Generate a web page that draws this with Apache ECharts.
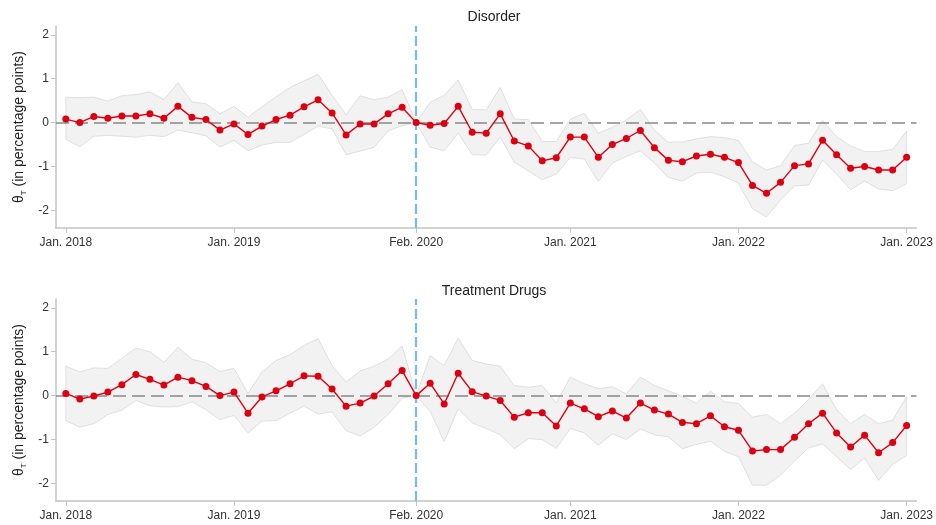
<!DOCTYPE html>
<html>
<head>
<meta charset="utf-8">
<script src="https://cdn.jsdelivr.net/npm/echarts@6/dist/echarts.min.js"></script>
<style>
  html, body { margin: 0; padding: 0; background: #fff; }
  #chart { width: 936px; height: 525px; }
</style>
</head>
<body>
<div id="chart"></div>
<script>
// month index 0 = Jan. 2018 ... 60 = Jan. 2023
const tickMonths = [0, 12, 25, 36, 48, 60];
const tickLabels = ['Jan. 2018', 'Jan. 2019', 'Feb. 2020', 'Jan. 2021', 'Jan. 2022', 'Jan. 2023'];
const yTicks = [-2, -1, 0, 1, 2];
const eventMonth = 25;

const disorderEst = [0.08, 0.00, 0.14, 0.10, 0.15, 0.15, 0.20, 0.10, 0.37, 0.12,
  0.07, -0.17, -0.03, -0.27, -0.08, 0.07, 0.17, 0.36, 0.52, 0.22,
  -0.28, -0.03, -0.03, 0.20, 0.35, 0.00, -0.06, -0.02, 0.37, -0.22,
  -0.24, 0.20, -0.42, -0.53, -0.87, -0.80, -0.33, -0.33, -0.79, -0.50,
  -0.36, -0.18, -0.57, -0.86, -0.89, -0.76, -0.72, -0.79, -0.91, -1.43,
  -1.61, -1.36, -0.98, -0.94, -0.40, -0.73, -1.04, -1.00, -1.08, -1.08,
  -0.79];
const disorderHi = [0.58, 0.57, 0.58, 0.49, 0.61, 0.64, 0.70, 0.52, 0.91, 0.47,
  0.43, 0.20, 0.37, 0.12, 0.36, 0.59, 0.80, 0.95, 1.10, 0.62,
  0.18, 0.61, 0.52, 0.58, 0.75, 0.00, 0.46, 0.62, 0.97, 0.30,
  0.29, 0.80, 0.08, 0.07, -0.43, -0.43, 0.08, 0.21, -0.24, -0.11,
  0.06, 0.30, -0.17, -0.45, -0.44, -0.37, -0.32, -0.34, -0.41, -0.89,
  -1.08, -0.98, -0.52, -0.47, 0.05, -0.32, -0.53, -0.66, -0.66, -0.61,
  -0.19];
const disorderLo = [-0.38, -0.55, -0.31, -0.29, -0.31, -0.33, -0.29, -0.32, -0.17, -0.23,
  -0.30, -0.56, -0.40, -0.64, -0.51, -0.45, -0.45, -0.27, -0.08, -0.14,
  -0.73, -0.65, -0.56, -0.19, -0.07, 0.00, -0.56, -0.64, -0.24, -0.73,
  -0.74, -0.33, -0.90, -1.10, -1.30, -1.17, -0.79, -0.83, -1.34, -0.92,
  -0.77, -0.64, -0.92, -1.25, -1.33, -1.15, -1.13, -1.23, -1.38, -1.96,
  -2.15, -1.76, -1.44, -1.42, -0.85, -1.17, -1.53, -1.33, -1.51, -1.55,
  -1.39];

const drugsEst = [0.05, -0.08, -0.01, 0.08, 0.25, 0.48, 0.37, 0.24, 0.42, 0.34,
  0.21, 0.00, 0.08, -0.40, -0.03, 0.11, 0.27, 0.45, 0.44, 0.15,
  -0.24, -0.17, -0.01, 0.27, 0.57, 0.00, 0.28, -0.19, 0.51, 0.09,
  -0.01, -0.11, -0.49, -0.39, -0.39, -0.69, -0.17, -0.30, -0.48, -0.35,
  -0.51, -0.17, -0.33, -0.42, -0.61, -0.64, -0.46, -0.71, -0.79, -1.26,
  -1.23, -1.23, -0.95, -0.64, -0.40, -0.85, -1.17, -0.90, -1.30, -1.07,
  -0.68];
const drugsHi = [0.67, 0.54, 0.63, 0.62, 0.85, 1.08, 1.00, 0.76, 1.10, 0.83,
  0.75, 0.55, 0.62, 0.05, 0.54, 0.80, 0.93, 1.14, 1.30, 0.68,
  0.31, 0.56, 0.67, 0.83, 1.13, 0.00, 0.91, 0.68, 1.31, 0.80,
  0.72, 0.67, 0.23, 0.19, 0.23, -0.17, 0.42, 0.27, 0.16, 0.20,
  0.04, 0.42, 0.23, 0.11, -0.02, -0.17, 0.10, -0.14, -0.18, -0.49,
  -0.43, -0.64, -0.40, -0.09, 0.27, -0.32, -0.64, -0.43, -0.64, -0.56,
  -0.02];
const drugsLo = [-0.57, -0.72, -0.64, -0.43, -0.33, -0.11, -0.23, -0.26, -0.25, -0.14,
  -0.32, -0.55, -0.45, -0.85, -0.58, -0.57, -0.40, -0.24, -0.42, -0.37,
  -0.80, -0.92, -0.72, -0.43, -0.06, 0.00, -0.36, -1.05, -0.30, -0.62,
  -0.75, -0.89, -1.21, -0.98, -1.00, -1.20, -0.75, -0.85, -1.13, -0.87,
  -1.00, -0.76, -0.89, -0.94, -1.21, -1.11, -1.04, -1.27, -1.39, -2.04,
  -2.04, -1.81, -1.49, -1.19, -1.10, -1.39, -1.68, -1.42, -1.93, -1.57,
  -1.36];

const font = 'Liberation Sans, Arial, sans-serif';
const axisGray = '#c4c4c4';

function pairs(arr) {
  return arr.map((v, i) => [i, v]);
}

function xAxisFor(idx) {
  return {
    type: 'value', gridIndex: idx, min: -0.7, max: 60.7,
    axisLine: { show: true, onZero: false, lineStyle: { color: axisGray, width: 1.5 } },
    axisTick: { show: true, customValues: tickMonths, length: 5, lineStyle: { color: axisGray } },
    axisLabel: {
      customValues: tickMonths, margin: 9, color: '#333', fontSize: 12, fontFamily: font,
      formatter: v => tickLabels[tickMonths.indexOf(v)]
    },
    splitLine: { show: false }
  };
}

function yAxisFor(idx) {
  return {
    type: 'value', gridIndex: idx, min: -2.4, max: 2.2,
    name: '{t|θ}{s|T}{t| (in percentage points)}',
    nameLocation: 'middle', nameGap: 28, nameRotate: 90,
    nameTextStyle: {
      fontFamily: font, color: '#222',
      rich: {
        t: { fontSize: 14, fontFamily: font, color: '#222', lineHeight: 16 },
        s: { fontSize: 8, fontFamily: font, color: '#222', lineHeight: 16, verticalAlign: 'bottom', padding: [4, 0, 0, 0] }
      }
    },
    axisLine: { show: true, onZero: false, lineStyle: { color: axisGray, width: 1.5 } },
    axisTick: { show: true, customValues: yTicks, length: 5, lineStyle: { color: axisGray } },
    axisLabel: { customValues: yTicks, margin: 7, color: '#333', fontSize: 12, fontFamily: font },
    splitLine: { show: false }
  };
}

// confidence band drawn as one polygon: upper edge forward, lower edge backward
function bandSeries(idx, hi, lo) {
  return {
    type: 'custom', xAxisIndex: idx, yAxisIndex: idx, silent: true, z: 1,
    data: pairs(hi),
    renderItem: function (params, api) {
      if (params.dataIndex !== 0) return null;
      const pts = [];
      hi.forEach((v, i) => pts.push(api.coord([i, v])));
      for (let i = lo.length - 1; i >= 0; i--) pts.push(api.coord([i, lo[i]]));
      return {
        type: 'polygon',
        shape: { points: pts },
        style: { fill: '#f2f2f2', stroke: '#e0e0e0', lineWidth: 1 }
      };
    }
  };
}

function panelSeries(idx, est, hi, lo) {
  return [
    bandSeries(idx, hi, lo),
    {
      type: 'line', xAxisIndex: idx, yAxisIndex: idx, data: pairs(est),
      symbol: 'circle', symbolSize: 7, z: 5,
      itemStyle: { color: '#dc0010' },
      lineStyle: { color: '#dc0010', width: 1.4 },
      markLine: {
        silent: true, symbol: 'none', label: { show: false },
        data: [
          { yAxis: 0, lineStyle: { color: '#888888', type: [13, 6], width: 1.5 } },
          { xAxis: eventMonth, lineStyle: { color: '#7cbce6', type: [10, 4], width: 2.3 } }
        ]
      }
    }
  ];
}

const chart = echarts.init(document.getElementById('chart'));
chart.setOption({
  animation: false,
  backgroundColor: '#fff',
  title: [
    { text: 'Disorder', left: 489, top: 5, textAlign: 'center',
      textStyle: { fontSize: 14, fontWeight: 'normal', color: '#222', fontFamily: font } },
    { text: 'Treatment Drugs', left: 489, top: 279, textAlign: 'center',
      textStyle: { fontSize: 14, fontWeight: 'normal', color: '#222', fontFamily: font } }
  ],
  grid: [
    { left: 56, right: 14, top: 26, height: 202 },
    { left: 56, right: 14, top: 299, height: 202 }
  ],
  xAxis: [xAxisFor(0), xAxisFor(1)],
  yAxis: [yAxisFor(0), yAxisFor(1)],
  series: [
    ...panelSeries(0, disorderEst, disorderHi, disorderLo),
    ...panelSeries(1, drugsEst, drugsHi, drugsLo)
  ]
});
</script>
</body>
</html>
